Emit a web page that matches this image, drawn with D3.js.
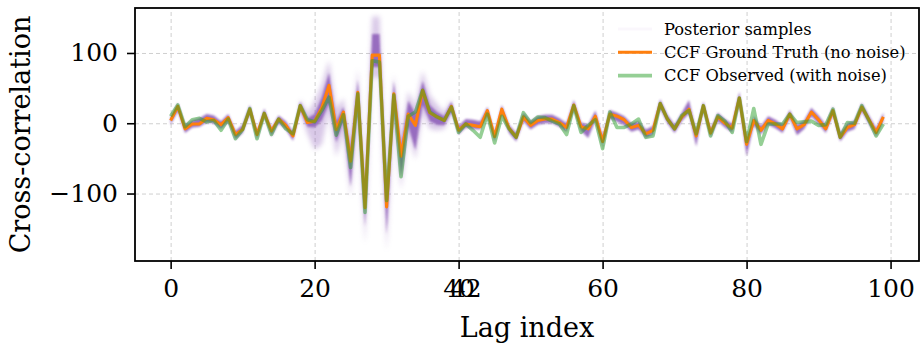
<!DOCTYPE html>
<html>
<head>
<meta charset="utf-8">
<script src="https://cdn.jsdelivr.net/npm/d3@7"></script>
<style>
  body { margin: 0; background: #fff; }
  svg { display: block; font-family: "DejaVu Serif", serif; }
  .grid line { stroke: #cfcfcf; stroke-dasharray: 4,3; stroke-width: 1; }
  .grid path { display: none; }
</style>
</head>
<body>
<script>
// lag index 0..99
let lags = d3.range(0, 100);

// CCF ground truth (no noise), orange line
let groundTruth = [4, 24, -8, -1, -1, 7, 5, -2, 8, -16, -9, 20, -16, 14, -11, 6, -3, -18, 25, 1,
  3, 22, 54, -9, 16, -54, 44, -120, 97, 97, -119, 42, -47, 13, -3, 47, 15, 9, 4, 24,
  -10, -1, -3, -5, 18, -19, 20, -7, -20, 9, -3, 4, 6, 6, 1, -6, 26, -5, -8, 10,
  -26, 13, 10, 5, -6, -3, -15, -10, 28, 6, -8, 9, 20, -18, 25, -14, 9, 0, -7, 36,
  -30, 4, -10, 4, -1, -8, 13, -8, -2, 16, 5, -8, 18, -20, -6, -2, 23, 5, -13, 9];

// CCF observed (with noise), green line
let observed = [10, 26, -5, 5, 7, 2, 4, -10, 6, -22, -9, 21, -22, 14, -16, 6, -8, -15, 25, 5,
  2, 18, 37, -17, 12, -63, 42, -127, 89, 87, -110, 40, -76, 10, 16, 47, 16, 9, 4, 23,
  -13, -1, -10, -20, 13, -28, 10, -8, -20, 15, 1, 9, 8, 3, -1, -16, 25, -13, -3, 5,
  -36, 16, -6, -6, -1, 6, -20, -18, 28, 6, -8, 11, 18, -15, 25, -18, 11, 3, -13, 36,
  -26, 21, -30, -1, -1, -1, 13, 1, 2, 3, -3, -2, 20, -20, 1, 0, 25, 4, -18, -1];

// posterior samples, dense part of the band
let postLo = [-2, 17, -14, -6, -5, 1, 0, -8, 2, -23, -14, 14, -23, 10, -19, 0, -9, -25, 19, -5,
  -6, 4, 28, -27, 3, -90, 28, -147, 80, 80, -158, 26, -78, -4, -38, 26, 3, -2, -3, 16,
  -16, -6, -8, -9, 11, -26, 14, -14, -26, 3, -9, -2, 0, 0, -5, -12, 20, -11, -21, 4,
  -33, 7, 2, -3, -12, -9, -21, -16, 21, 0, -14, 3, 14, -33, 19, -20, 3, -6, -13, 29,
  -47, -3, -16, -2, -7, -14, 7, -17, -8, 10, -1, -14, 12, -26, -12, -8, 17, -1, -19, 3];
let postHi = [9, 29, -2, 4, 7, 13, 11, 3, 13, -11, -2, 26, -12, 21, -7, 11, 3, -12, 31, 7,
  13, 37, 72, 3, 23, -38, 62, -103, 127, 127, -98, 60, -33, 32, 14, 60, 26, 16, 10, 31,
  -4, 6, 5, 3, 23, -14, 26, -2, -14, 15, 3, 10, 12, 12, 7, 0, 33, 1, -2, 18,
  -19, 19, 15, 10, 0, 3, -9, -4, 34, 12, -2, 15, 33, -12, 31, -8, 15, 6, -1, 45,
  -25, 10, -4, 10, 5, -2, 19, -2, 4, 22, 11, -2, 24, -14, 0, 4, 29, 11, -7, 15];

// faint tails of the samples around the central peak
let faintLags = d3.range(18, 40);
let faintLo = [15, -15, -38, -30, 18, -48, -12, -105, 18, -172, 65, 65, -182, 15, -95, -12, -52, 15, -8, -10, -8, 12];
let faintHi = [35, 14, 32, 55, 90, 20, 36, -28, 78, -92, 152, 152, -88, 70, -25, 46, 24, 75, 40, 27, 15, 35];

let xTicks = [0, 20, 40, 60, 80, 100];
let yTicks = [-100, 0, 100];

// canvas
var margin = {top: 8, right: 2, bottom: 86, left: 135},
    width = 921 - margin.left - margin.right,
    height = 347 - margin.top - margin.bottom;

var x = d3.scaleLinear().domain([-4.95, 103.95]).range([0, width]);
var y = d3.scaleLinear().domain([-196, 164]).range([height, 0]);

var svg = d3.select("body").append("svg")
    .attr("width", 921)
    .attr("height", 347);

var defs = svg.append("defs");
defs.append("filter").attr("id", "soft")
    .attr("x", "-5%").attr("y", "-20%").attr("width", "110%").attr("height", "140%")
  .append("feGaussianBlur").attr("stdDeviation", 1.1);
defs.append("filter").attr("id", "softer")
    .attr("x", "-5%").attr("y", "-20%").attr("width", "110%").attr("height", "140%")
  .append("feGaussianBlur").attr("stdDeviation", 2.6);
defs.append("clipPath").attr("id", "plotclip")
  .append("rect").attr("width", width).attr("height", height);

var g = svg.append("g")
    .attr("transform", "translate(" + margin.left + "," + margin.top + ")");

// dashed grid
g.append("g")
    .attr("class", "grid")
    .attr("transform", "translate(0," + height + ")")
    .call(d3.axisBottom(x).tickValues(xTicks).tickSize(-height).tickFormat(""));
g.append("g")
    .attr("class", "grid")
    .call(d3.axisLeft(y).tickValues(yTicks).tickSize(-width).tickFormat(""));

var plot = g.append("g").attr("clip-path", "url(#plotclip)");

// posterior samples as a purple band
var faintArea = d3.area()
    .x(function(d, i) { return x(faintLags[i]); })
    .y0(function(d, i) { return y(faintLo[i]); })
    .y1(function(d, i) { return y(faintHi[i]); });
plot.append("path")
    .datum(faintLags)
    .attr("d", faintArea)
    .attr("fill", "#9467bd")
    .attr("opacity", 0.36)
    .attr("filter", "url(#softer)");

var postArea = d3.area()
    .x(function(d) { return x(d); })
    .y0(function(d, i) { return y(postLo[i]); })
    .y1(function(d, i) { return y(postHi[i]); });
plot.append("path")
    .datum(lags)
    .attr("d", postArea)
    .attr("fill", "#9467bd")
    .attr("opacity", 0.95)
    .attr("filter", "url(#soft)");

// ground truth then observed on top
var line = function(vals) {
  return d3.line()
    .x(function(d) { return x(d); })
    .y(function(d, i) { return y(vals[i]); });
};
plot.append("path")
    .datum(lags)
    .attr("d", line(groundTruth))
    .attr("fill", "none")
    .attr("stroke", "#ff7f0e")
    .attr("stroke-width", 3.1)
    .attr("stroke-linejoin", "round");
plot.append("path")
    .datum(lags)
    .attr("d", line(observed))
    .attr("fill", "none")
    .attr("stroke", "#2ca02c")
    .attr("stroke-opacity", 0.5)
    .attr("stroke-width", 3.6)
    .attr("stroke-linejoin", "round");

// axes
var xAxis = g.append("g")
    .attr("transform", "translate(0," + height + ")")
    .call(d3.axisBottom(x).tickValues(xTicks).tickSize(8).tickPadding(10).tickFormat(d3.format("d")));
var yAxis = g.append("g")
    .call(d3.axisLeft(y).tickValues(yTicks).tickSize(8).tickPadding(9)
      .tickFormat(function(d) { return d < 0 ? "\u2212" + Math.abs(d) : d; }));
[xAxis, yAxis].forEach(function(a) {
  a.select(".domain").remove();
  a.selectAll("line").attr("stroke", "#000").attr("stroke-width", 1.6);
  a.selectAll("text").attr("fill", "#000").style("font-size", "25px").style("font-family", "DejaVu Serif");
});

// stray "42" label sitting on top of the 40 tick
g.append("text")
    .attr("x", x(41))
    .attr("y", height + 18)
    .attr("dy", "0.71em")
    .attr("text-anchor", "middle")
    .style("font-size", "25px")
    .text("42");

// frame
g.append("rect")
    .attr("width", width)
    .attr("height", height)
    .attr("fill", "none")
    .attr("stroke", "#000")
    .attr("stroke-width", 1.8);

// axis titles
svg.append("text")
    .attr("x", margin.left + width / 2)
    .attr("y", 337)
    .attr("text-anchor", "middle")
    .style("font-size", "27px")
    .text("Lag index");
svg.append("text")
    .attr("transform", "translate(30," + (margin.top + height / 2) + ") rotate(-90)")
    .attr("text-anchor", "middle")
    .style("font-size", "27px")
    .text("Cross-correlation");

// legend
let legendLabels = ["Posterior samples", "CCF Ground Truth (no noise)", "CCF Observed (with noise)"];
let legendColors = ["#9467bd", "#ff7f0e", "#2ca02c"];
let legendAlpha = [0.05, 1, 0.5];
var legend = svg.append("g").attr("transform", "translate(618,29)");
legendLabels.forEach(function(lab, i) {
  var row = legend.append("g").attr("transform", "translate(0," + (i * 23.3) + ")");
  row.append("line")
      .attr("x1", 0).attr("x2", 34)
      .attr("stroke", legendColors[i])
      .attr("stroke-opacity", legendAlpha[i])
      .attr("stroke-width", i == 2 ? 3.6 : 3.1);
  row.append("text")
      .attr("x", 46)
      .attr("dy", "0.35em")
      .style("font-size", "16.3px")
      .text(lab);
});
</script>
</body>
</html>
